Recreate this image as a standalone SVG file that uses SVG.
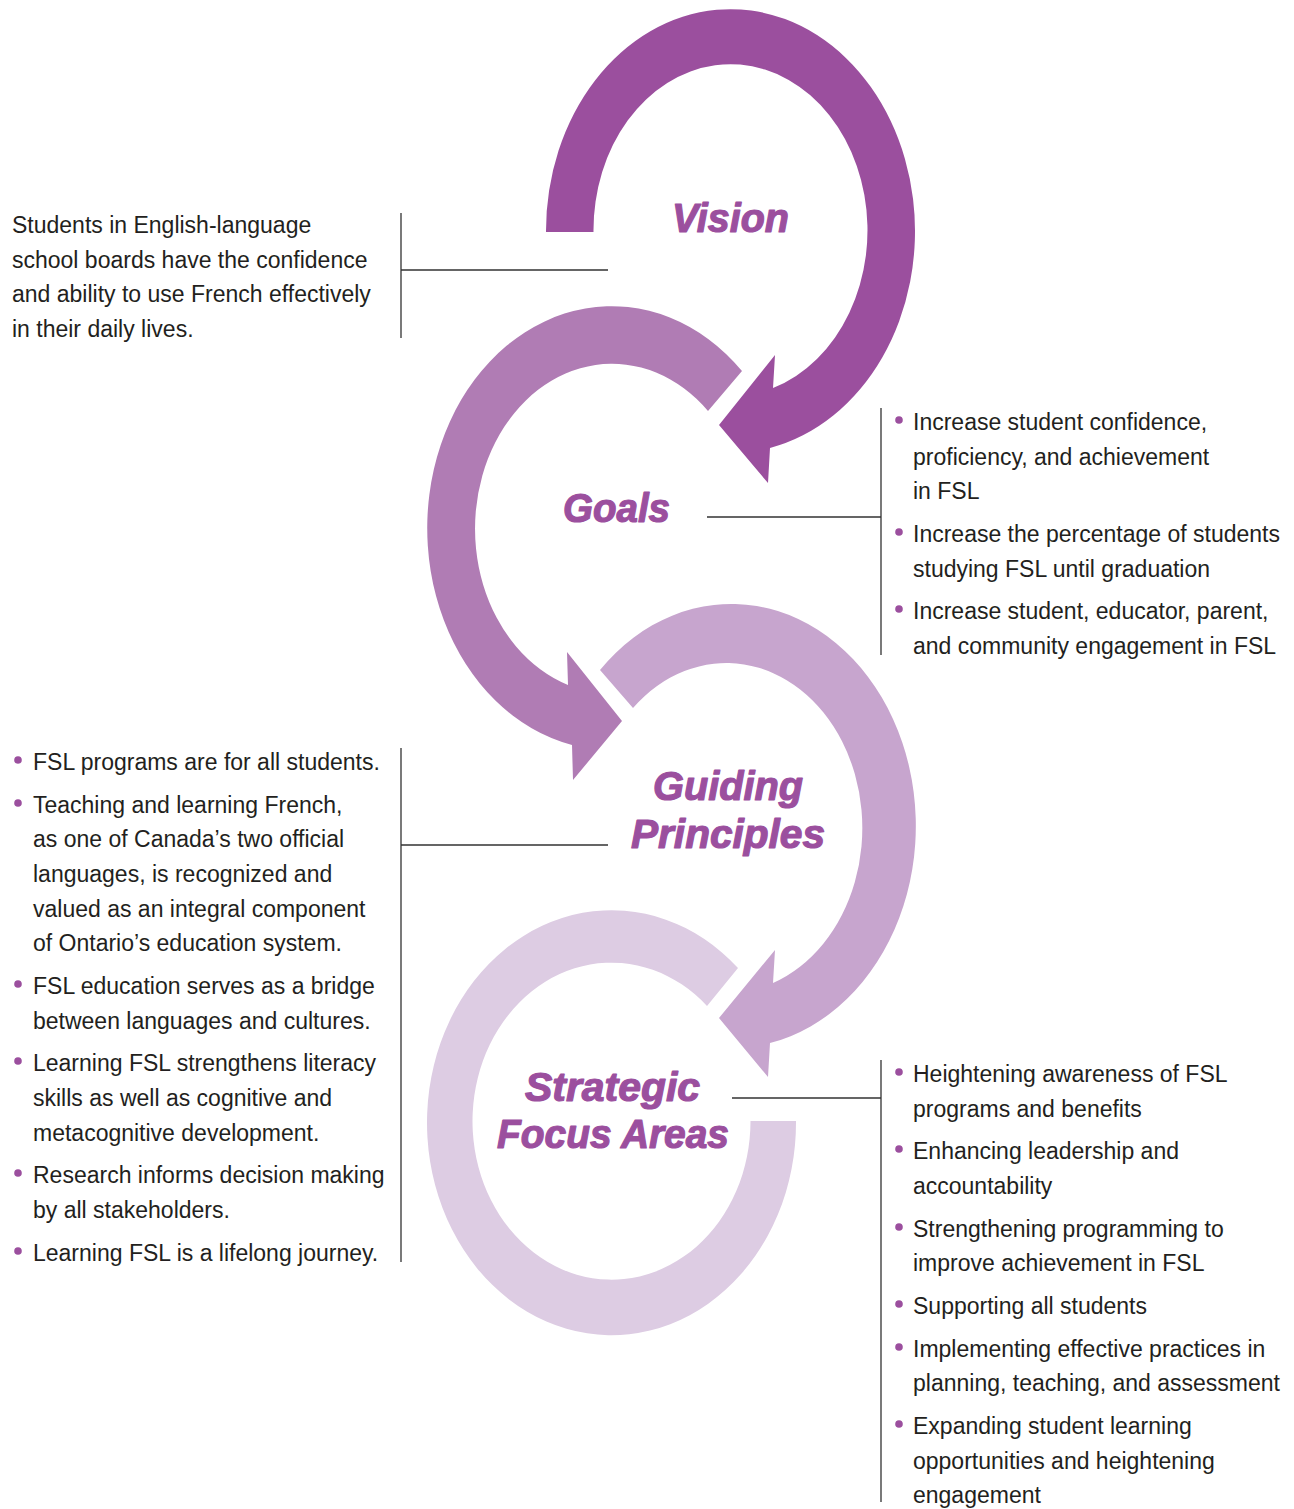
<svg xmlns="http://www.w3.org/2000/svg" width="1294" height="1509" viewBox="0 0 1294 1509">
<style>
.body{font-family:"Liberation Sans",Arial,sans-serif;font-size:23px;fill:#231f20}
.head{font-family:"Liberation Sans",Arial,sans-serif;font-weight:bold;font-style:italic;font-size:40px;fill:#9b4f9e;stroke:#9b4f9e;stroke-width:1.2;stroke-linejoin:round}
.bul{fill:#9b4f9e}
.ln{stroke:#333;stroke-width:1.3;fill:none}
</style>
<rect width="1294" height="1509" fill="#fff"/>
<g id="connectors">
<path class="ln" d="M401,213 V338 M401,270 H608"/>
<path class="ln" d="M881,408 V655 M881,517 H707"/>
<path class="ln" d="M401,748 V1262 M401,845 H608"/>
<path class="ln" d="M881,1060 V1502 M881,1098 H732"/>
</g>
<g id="strategic">
<path fill="#ddcce3" d="M738,968 A184.5,212.5 0 1 0 796,1121 L750.5,1121 A139,158.5 0 1 1 707,1006 Z"/>
<text class="head" x="525" y="1101" textLength="175" lengthAdjust="spacingAndGlyphs">Strategic</text>
<text class="head" x="497" y="1148" textLength="232" lengthAdjust="spacingAndGlyphs">Focus Areas</text>
</g>
<g id="guiding">
<path fill="#c7a5ce" d="M600,670 A184.5,222 0 1 1 770,1043 L768,1077 L719,1018 L775,950 L773,983 A136,165 0 1 0 633,708 Z"/>
<text class="head" x="653" y="800" textLength="150" lengthAdjust="spacingAndGlyphs">Guiding</text>
<text class="head" x="631" y="848" textLength="194" lengthAdjust="spacingAndGlyphs">Principles</text>
</g>
<g id="goals">
<path fill="#b07cb4" d="M742,371 A184.5,222 0 1 0 572,745 L573,780 L622,721 L567,652 L568,685 A137,165 0 1 1 708,411 Z"/>
<text class="head" x="563" y="522" textLength="107" lengthAdjust="spacingAndGlyphs">Goals</text>
</g>
<g id="vision">
<path fill="#9b4f9e" d="M546,232 A184.5,222 0 1 1 770,448 L768,483 L719,425 L775,355 L773,388 A137,166 0 1 0 593.5,232 Z"/>
<text class="head" x="672" y="232" textLength="117" lengthAdjust="spacingAndGlyphs">Vision</text>
</g>
<g id="vision-text">
<text class="body" x="12" y="233">Students in English-language</text>
<text class="body" x="12" y="268">school boards have the confidence</text>
<text class="body" x="12" y="302">and ability to use French effectively</text>
<text class="body" x="12" y="337">in their daily lives.</text>
</g>
<g id="goals-text">
<circle class="bul" cx="899" cy="420" r="3.8"/>
<circle class="bul" cx="899" cy="532" r="3.8"/>
<circle class="bul" cx="899" cy="609" r="3.8"/>
<text class="body" x="913" y="430">Increase student confidence,</text>
<text class="body" x="913" y="465">proficiency, and achievement</text>
<text class="body" x="913" y="499">in FSL</text>
<text class="body" x="913" y="542">Increase the percentage of students</text>
<text class="body" x="913" y="577">studying FSL until graduation</text>
<text class="body" x="913" y="619">Increase student, educator, parent,</text>
<text class="body" x="913" y="654">and community engagement in FSL</text>
</g>
<g id="guiding-text">
<circle class="bul" cx="18" cy="760" r="3.8"/>
<circle class="bul" cx="18" cy="803" r="3.8"/>
<circle class="bul" cx="18" cy="984" r="3.8"/>
<circle class="bul" cx="18" cy="1061" r="3.8"/>
<circle class="bul" cx="18" cy="1173" r="3.8"/>
<circle class="bul" cx="18" cy="1251" r="3.8"/>
<text class="body" x="33" y="770">FSL programs are for all students.</text>
<text class="body" x="33" y="813">Teaching and learning French,</text>
<text class="body" x="33" y="847">as one of Canada’s two official</text>
<text class="body" x="33" y="882">languages, is recognized and</text>
<text class="body" x="33" y="917">valued as an integral component</text>
<text class="body" x="33" y="951">of Ontario’s education system.</text>
<text class="body" x="33" y="994">FSL education serves as a bridge</text>
<text class="body" x="33" y="1029">between languages and cultures.</text>
<text class="body" x="33" y="1071">Learning FSL strengthens literacy</text>
<text class="body" x="33" y="1106">skills as well as cognitive and</text>
<text class="body" x="33" y="1141">metacognitive development.</text>
<text class="body" x="33" y="1183">Research informs decision making</text>
<text class="body" x="33" y="1218">by all stakeholders.</text>
<text class="body" x="33" y="1261">Learning FSL is a lifelong journey.</text>
</g>
<g id="strategic-text">
<circle class="bul" cx="899" cy="1072" r="3.8"/>
<circle class="bul" cx="899" cy="1149" r="3.8"/>
<circle class="bul" cx="899" cy="1227" r="3.8"/>
<circle class="bul" cx="899" cy="1304" r="3.8"/>
<circle class="bul" cx="899" cy="1347" r="3.8"/>
<circle class="bul" cx="899" cy="1424" r="3.8"/>
<text class="body" x="913" y="1082">Heightening awareness of FSL</text>
<text class="body" x="913" y="1117">programs and benefits</text>
<text class="body" x="913" y="1159">Enhancing leadership and</text>
<text class="body" x="913" y="1194">accountability</text>
<text class="body" x="913" y="1237">Strengthening programming to</text>
<text class="body" x="913" y="1271">improve achievement in FSL</text>
<text class="body" x="913" y="1314">Supporting all students</text>
<text class="body" x="913" y="1357">Implementing effective practices in</text>
<text class="body" x="913" y="1391">planning, teaching, and assessment</text>
<text class="body" x="913" y="1434">Expanding student learning</text>
<text class="body" x="913" y="1469">opportunities and heightening</text>
<text class="body" x="913" y="1503">engagement</text>
</g>
</svg>
